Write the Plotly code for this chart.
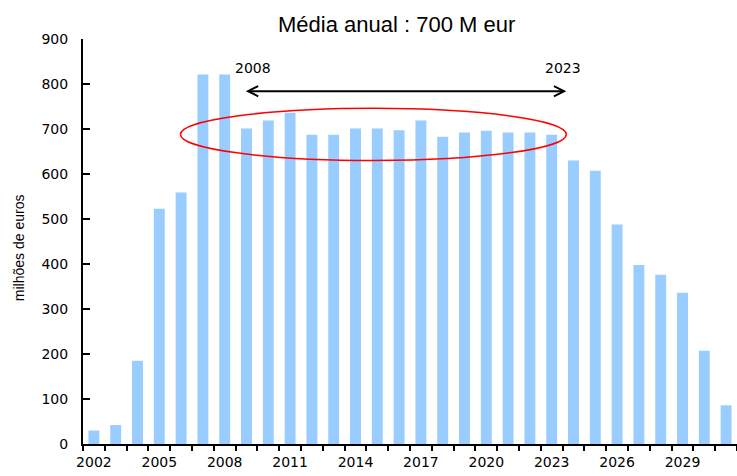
import plotly.graph_objects as go

years = [2002, 2003, 2004, 2005, 2006, 2007, 2008, 2009, 2010, 2011,
         2012, 2013, 2014, 2015, 2016, 2017, 2018, 2019, 2020, 2021,
         2022, 2023, 2024, 2025, 2026, 2027, 2028, 2029, 2030, 2031]
values = [30, 42, 185, 523, 559, 821, 821, 701, 719, 736,
          687, 687, 701, 701, 697, 719, 683, 692, 696, 692,
          692, 687, 630, 607, 488, 398, 376, 336, 207, 86]
x_tick_labels = [2002, 2005, 2008, 2011, 2014, 2017, 2020, 2023, 2026, 2029]
y_ticks = [0, 100, 200, 300, 400, 500, 600, 700, 800, 900]

title_text = "Média anual : 700 M eur"
y_title = "milhões de euros"
period_start, period_end = "2008", "2023"

fig = go.Figure()
fig.add_trace(go.Bar(x=years, y=values, marker=dict(color="#99CCFF", line=dict(width=0))))

tick_font = dict(family="DejaVu Sans", size=14, color="black")

fig.update_layout(
    width=737, height=476,
    margin=dict(l=83, r=0, t=39, b=32),
    plot_bgcolor="white", paper_bgcolor="white",
    bargap=0.5, showlegend=False,
    xaxis=dict(
        range=[years[0] - 0.5, years[-1] + 0.5],
        tickvals=x_tick_labels, ticktext=[str(v) for v in x_tick_labels],
        ticks="", showgrid=False, zeroline=False,
        showline=True, linecolor="black", linewidth=2,
        tickfont=tick_font, ticklabelstandoff=4,
        minor=dict(ticks="outside", tick0=years[0] - 0.5, dtick=1, ticklen=5,
                   tickcolor="black", tickwidth=1.5, showgrid=False),
    ),
    yaxis=dict(
        range=[0, 900], tickvals=y_ticks,
        ticks="inside", ticklen=7, tickcolor="black", tickwidth=1.5,
        showgrid=False, zeroline=False,
        showline=True, linecolor="black", linewidth=2,
        tickfont=tick_font, ticklabelstandoff=10,
    ),
)

# title
fig.add_annotation(text=title_text, xref="paper", yref="paper",
                   x=(396 - 83) / 654, y=(443.7 - 25) / 404.7,
                   xanchor="center", yanchor="middle", showarrow=False,
                   font=dict(family="Liberation Sans", size=22, color="black"))
# y axis title
fig.add_annotation(text=y_title, xref="paper", yref="paper",
                   x=(19 - 83) / 654, y=(443.7 - 248) / 404.7, textangle=-90,
                   xanchor="center", yanchor="middle", showarrow=False,
                   font=dict(family="Liberation Sans", size=14, color="black"))

# period labels
fig.add_annotation(text=period_start, x=2009.3, y=835, xref="x", yref="y",
                   showarrow=False, font=dict(family="DejaVu Sans", size=14, color="black"))
fig.add_annotation(text=period_end, x=2023.5, y=835, xref="x", yref="y",
                   showarrow=False, font=dict(family="DejaVu Sans", size=14, color="black"))

# double arrow
fig.add_annotation(x=2023.67, y=784, ax=2008.9, ay=784, xref="x", yref="y",
                   axref="x", ayref="y", text="", showarrow=True,
                   arrowside="end+start", arrowhead=5, startarrowhead=5,
                   arrowsize=1, startarrowsize=1, arrowwidth=2, arrowcolor="black")

# red ellipse
fig.add_shape(type="circle", xref="x", yref="y", x0=2005.97, x1=2023.67, y0=630, y1=746,
              line=dict(color="red", width=1.5))

fig.write_html("out.html", config={"displayModeBar": False},
               post_script="document.body.style.margin='0';")
